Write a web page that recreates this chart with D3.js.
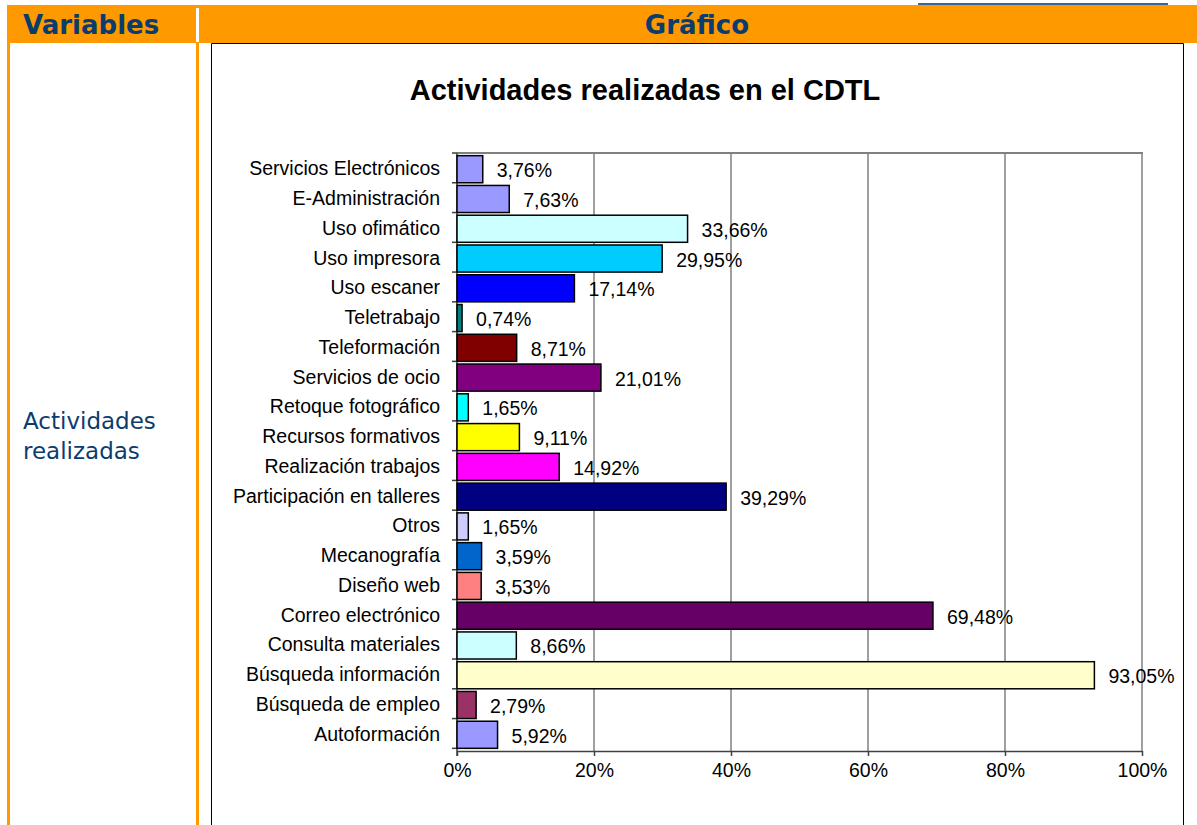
<!DOCTYPE html>
<html>
<head>
<meta charset="utf-8">
<script src="https://cdn.jsdelivr.net/npm/d3@7"></script>
<style>
  body { margin: 0; background: #fff; }
  svg { display: block; }
</style>
</head>
<body>
<script>
// chart data, top to bottom as drawn
var categories = [
  'Servicios Electrónicos', 'E-Administración', 'Uso ofimático', 'Uso impresora',
  'Uso escaner', 'Teletrabajo', 'Teleformación', 'Servicios de ocio',
  'Retoque fotográfico', 'Recursos formativos', 'Realización trabajos',
  'Participación en talleres', 'Otros', 'Mecanografía', 'Diseño web',
  'Correo electrónico', 'Consulta materiales', 'Búsqueda información',
  'Búsqueda de empleo', 'Autoformación'
];
var values = [3.76, 7.63, 33.66, 29.95, 17.14, 0.74, 8.71, 21.01, 1.65, 9.11,
              14.92, 39.29, 1.65, 3.59, 3.53, 69.48, 8.66, 93.05, 2.79, 5.92];
var barColors = ['#9999FF', '#9999FF', '#CCFFFF', '#00CCFF', '#0000FF', '#008080',
                 '#800000', '#800080', '#00FFFF', '#FFFF00', '#FF00FF', '#000080',
                 '#CCCCFF', '#0066CC', '#FF8080', '#660066', '#CCFFFF', '#FFFFCC',
                 '#993366', '#9999FF'];
var xTicks = [0, 20, 40, 60, 80, 100];

var W = 1197, H = 825;
var orange = '#FF9900', navy = '#0B3C6E';
var font = 'Liberation Sans, Arial, sans-serif';

var svg = d3.select('body').append('svg')
    .attr('width', W).attr('height', H);

// page table frame
svg.append('rect').attr('x', 7).attr('y', 5).attr('width', W - 7).attr('height', 38)
    .attr('fill', orange);
svg.append('rect').attr('x', 196).attr('y', 8).attr('width', 3).attr('height', 34)
    .attr('fill', '#fff');
svg.append('rect').attr('x', 7).attr('y', 43).attr('width', 3).attr('height', H - 43)
    .attr('fill', orange);
svg.append('rect').attr('x', 196).attr('y', 43).attr('width', 3).attr('height', H - 43)
    .attr('fill', orange);
svg.append('line').attr('x1', 918).attr('x2', 1168).attr('y1', 4).attr('y2', 4)
    .attr('stroke', '#336699').attr('stroke-width', 2);

svg.append('text').attr('x', 23).attr('y', 34)
    .attr('font-family', 'DejaVu Sans').attr('font-weight', 'bold')
    .attr('font-size', 26).attr('fill', navy).text('Variables');
svg.append('text').attr('x', 697).attr('y', 34).attr('text-anchor', 'middle')
    .attr('font-family', 'DejaVu Sans').attr('font-weight', 'bold')
    .attr('font-size', 26).attr('fill', navy).text('Gráfico');

svg.append('text').attr('font-family', 'DejaVu Sans').attr('font-size', 23)
    .attr('fill', navy)
  .selectAll('tspan').data(['Actividades', 'realizadas']).enter().append('tspan')
    .attr('x', 23).attr('y', function(d, i) { return 429 + i * 30; })
    .text(function(d) { return d; });

// chart box
svg.append('path').attr('d', 'M211.5,' + H + 'V43.5H1183.5V' + H)
    .attr('fill', 'none').attr('stroke', '#000').attr('stroke-width', 1);

svg.append('text').attr('x', 645).attr('y', 100).attr('text-anchor', 'middle')
    .attr('font-family', font).attr('font-weight', 'bold')
    .attr('font-size', 29).text('Actividades realizadas en el CDTL');

// plot area
var pLeft = 457, pRight = 1142, pTop = 153, pBottom = 751;
var x = d3.scaleLinear().domain([0, 100]).range([pLeft, pRight]);
var y = d3.scaleBand().domain(categories).range([pTop, pBottom]).padding(0.09);

var g = svg.append('g');

g.selectAll('line.grid').data(xTicks.slice(1)).enter().append('line')
    .attr('class', 'grid')
    .attr('x1', function(d) { return x(d); }).attr('x2', function(d) { return x(d); })
    .attr('y1', pTop).attr('y2', pBottom)
    .attr('stroke', '#808080').attr('stroke-width', 1.5);
g.append('line').attr('x1', pLeft).attr('x2', pRight + 1).attr('y1', pTop).attr('y2', pTop)
    .attr('stroke', '#808080').attr('stroke-width', 2);

var xAxis = d3.axisBottom(x).tickValues(xTicks)
    .tickFormat(function(d) { return d + '%'; })
    .tickSizeInner(5).tickSizeOuter(0).tickPadding(7);
var gx = g.append('g').attr('transform', 'translate(0,' + pBottom + ')').call(xAxis);
gx.select('.domain').attr('stroke', '#404040').attr('stroke-width', 1.5);
gx.selectAll('.tick line').attr('stroke', '#404040').attr('stroke-width', 1.5);
gx.selectAll('.tick text').attr('font-family', font)
    .attr('font-size', 19.5).attr('fill', '#000');

// category axis: ticks on band boundaries
var bandEdges = d3.range(categories.length + 1).map(function(i) {
  return pTop + i * y.step();
});
g.selectAll('line.ytick').data(bandEdges).enter().append('line')
    .attr('class', 'ytick')
    .attr('x1', pLeft - 5).attr('x2', pLeft)
    .attr('y1', function(d) { return d; }).attr('y2', function(d) { return d; })
    .attr('stroke', '#404040').attr('stroke-width', 1.5);
g.append('line').attr('x1', pLeft).attr('x2', pLeft).attr('y1', pTop).attr('y2', pBottom + 5)
    .attr('stroke', '#404040').attr('stroke-width', 1.5);

g.selectAll('text.cat').data(categories).enter().append('text')
    .attr('class', 'cat')
    .attr('x', pLeft - 17)
    .attr('y', function(d) { return y(d) + y.bandwidth() / 2 - 1; })
    .attr('dominant-baseline', 'central').attr('text-anchor', 'end')
    .attr('font-family', font).attr('font-size', 19.5)
    .text(function(d) { return d; });

var rows = categories.map(function(c, i) {
  return { cat: c, value: values[i], color: barColors[i] };
});

g.selectAll('rect.bar').data(rows).enter().append('rect')
    .attr('class', 'bar')
    .attr('x', pLeft)
    .attr('y', function(d) { return y(d.cat); })
    .attr('width', function(d) { return x(d.value) - pLeft; })
    .attr('height', y.bandwidth())
    .attr('fill', function(d) { return d.color; })
    .attr('stroke', '#000').attr('stroke-width', 1.5);

g.selectAll('text.val').data(rows).enter().append('text')
    .attr('class', 'val')
    .attr('x', function(d) { return x(d.value) + 14; })
    .attr('y', function(d) { return y(d.cat) + y.bandwidth() / 2 + 1; })
    .attr('dominant-baseline', 'central')
    .attr('font-family', font).attr('font-size', 19.5)
    .text(function(d) { return d.value.toFixed(2).replace('.', ',') + '%'; });
</script>
</body>
</html>
